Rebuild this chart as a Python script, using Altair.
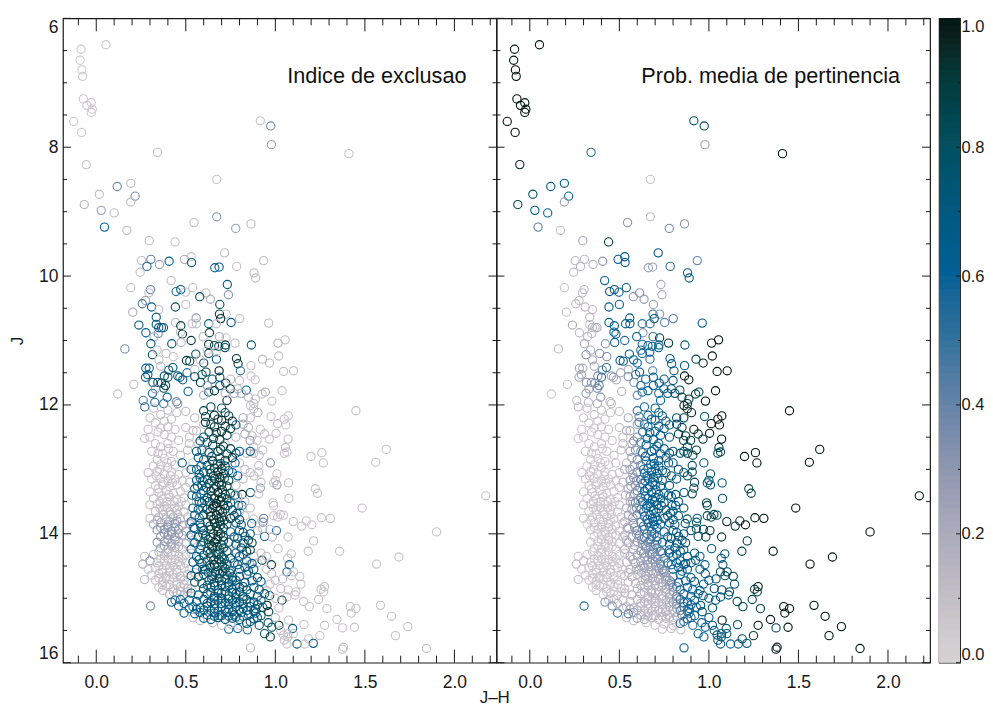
import altair as alt
import pandas as pd

# (J-H, J, exclusion index, membership probability)
bright_stars = [
(-.085,6.48,.05,1),(.054,6.41,.05,1),(-.09,6.65,.05,1),(-.08,6.80,.05,1),(-.076,6.90,.05,1),(-.072,7.25,.05,1),(-.052,7.35,.05,1),(-.028,7.31,.05,1),(-.022,7.41,.05,1),(-.028,7.46,.05,1),(-.126,7.60,.05,1),(-.082,7.77,.05,1),
(.916,7.59,.08,.75),(.974,7.67,.35,.8),(.978,7.96,.25,.25),(.342,8.08,.08,.5),(1.411,8.10,.08,1),(-.056,8.27,.08,.95),(.673,8.50,.08,.08),(.117,8.61,.38,.65),(.193,8.56,.12,.65),(.017,8.73,.1,.8),(.217,8.76,.35,.6),(.193,8.85,.1,.25),(-.067,8.89,.15,.85),(.028,8.98,.25,.65),(.10,9.02,.12,.6),(.046,9.24,.6,.4),(.171,9.29,.1,.1),(.673,9.08,.3,.12),(.546,9.17,.1,.3),(.779,9.26,.25,.35),(.864,9.19,.12,.3),(.296,9.45,.1,.2),(.44,9.47,.1,.9),(.53,9.70,.1,.65),(.717,9.64,.1,.65),(.253,9.76,.1,.12),(.305,9.74,.4,.12),(.407,9.77,.6,.3),(.493,9.74,.2,.6),(.532,9.79,.7,.65),(.935,9.76,.1,.4),(.283,9.85,.55,.15),(.353,9.82,.25,.15),(.662,9.87,.6,.25),(.686,9.86,.7,.25),(.784,9.85,.08,.5),(.245,9.94,.1,.1),(.881,9.95,.12,.65),(.89,10.03,.12,.65),(.418,10.07,.1,.6),
]
upper_branch = [
(.193,10.18,.1,.08),(.303,10.21,.4,.12),(.539,10.18,.1,.7),(.732,10.13,.7,.2),(.472,10.21,.75,.7),(.446,10.24,.55,.7),(.498,10.25,.1,.6),(.613,10.26,.12,.3),(.738,10.29,.3,.2),(.578,10.32,.8,.3),(.638,10.36,.2,.3),(.294,10.26,.1,.1),(.275,10.38,.25,.12),(.257,10.43,.45,.12),(.309,10.48,.7,.12),(.349,10.52,.1,.1),(.442,10.48,.8,.65),(.5,10.44,.1,.6),(.69,10.44,.8,.25),(.204,10.56,.2,.08),(.688,10.59,.85,.5),(.725,10.59,.1,.3),(.695,10.66,.95,.7),(.558,10.65,.3,.7),(.335,10.64,.7,.15),(.801,10.66,.1,.45),(.753,10.72,.7,.4),(.963,10.73,.1,.65),(.238,10.76,.7,.2),(.335,10.75,.7,.12),(.349,10.80,.7,.15),(.364,10.80,.7,.15),(.375,10.80,.7,.2),(.442,10.72,.1,.6),(.472,10.77,.9,.65),(.535,10.74,.1,.6),(.559,10.74,.1,.7),(.628,10.74,.6,.5),(.671,10.74,.1,.5),(.277,10.88,.6,.12),(.346,10.89,.4,.12),(.323,10.94,.2,.15),(.481,10.90,.9,.6),(.47,10.87,.1,.6),(.632,10.88,.9,.3),(.597,10.94,.15,.6),(.688,10.94,.2,.5),(.725,10.96,.1,.9),(.53,11.0,.9,.55),(1.015,11.04,.15,.95),(1.054,10.99,.1,1),(.305,11.05,.7,.2),(.422,11.05,.7,.3),(.474,11.03,.15,.6),(.775,11.04,.1,.9),(.628,11.06,.9,.55),(.66,11.08,.85,.6),(.684,11.09,.85,.6),(.721,11.07,.9,.6),(.866,11.07,.7,.75),(.16,11.13,.35,.1),
(.314,11.22,.85,.35),(.504,11.31,.9,.7),(.522,11.32,.85,.7),(.556,11.21,.8,.6),(.6,11.35,.8,.6),(.628,11.2,.85,.6),(.671,11.29,.7,.5),(.719,11.11,.8,.6),(.783,11.28,.9,.65),(.792,11.36,.9,.65),(.805,11.47,.5,.65),(.686,11.47,1,.4),(.277,11.43,.6,.2),(.296,11.43,.6,.2),(.288,11.53,.7,.25),(.275,11.57,.7,.2),(.316,11.65,.75,.3),(.344,11.65,.8,.3),(.364,11.66,.85,.35),(.405,11.46,.7,.4),(.428,11.42,.75,.5),(.4,11.57,.8,.5),(.387,11.70,.85,.4),(.377,11.74,.85,.4),(.455,11.55,.7,.25),(.467,11.57,.65,.25),(.507,11.5,.5,.2),(.483,11.61,.7,.2),(.55,11.56,.75,.3),(.591,11.53,.75,.5),(.613,11.49,.8,.6),(.582,11.65,.85,.35),(.647,11.6,.8,.6),(.69,11.57,.7,.6),(.723,11.66,.9,.7),(.749,11.75,.9,.65),(.66,11.78,.95,.6),(.628,11.8,.7,.6),(.513,11.79,.65,.15),(.838,11.77,.6,.8),(.396,11.88,.6,.3),(.314,11.82,.55,.25),(.262,11.93,.45,.12),(.271,12.03,.5,.12),(.327,11.96,.55,.12),(.377,11.98,.5,.2),(.448,11.95,.35,.12),(.455,11.98,.3,.12),(.73,11.93,.95,.6),
(.12,11.83,.1,.06),(.21,11.68,.1,.06),(.35,11.3,.1,.2),(.39,11.2,.1,.3),(.43,11.25,.1,.35),(.55,11.45,.1,.2),(.58,11.3,.1,.6),(.62,11.15,.1,.55),(.67,11.18,.1,.6),(.75,11.6,.12,.65),(.8,11.62,.1,.7),(.79,11.75,.15,.75),(.77,11.82,.2,.7),(.81,11.82,.2,.8),(.72,11.82,.2,.55),(.62,11.7,.3,.55),(.6,11.85,.2,.4),(.69,11.7,.7,.6),(.34,11.15,.12,.2),(.36,11.4,.15,.2),(.33,11.75,.3,.25),(.38,11.55,.8,.35),(.88,11.98,.12,.9),(.85,11.88,.15,.85),
]
red_wing = [
(1.45,12.09,.08,1),(1.26,12.74,.08,1),(1.199,12.8,.08,1),(1.268,12.9,.08,1),(1.619,12.69,.08,1),(1.561,12.89,.08,1),(2.175,13.41,.08,1),(1.485,13.6,.08,1),(1.9,13.97,.08,1),(1.359,14.27,.08,1),(1.69,14.36,.08,1),(1.565,14.47,.08,1),(1.418,15.13,.08,1),(1.45,15.16,.08,1),(1.424,15.23,.08,1),(1.587,15.11,.08,1),(1.649,15.28,.08,1),(1.344,15.33,.08,1),(1.74,15.44,.08,1),(1.671,15.58,.08,1),(1.375,15.79,.08,1),(1.381,15.76,.08,.95),(1.844,15.78,.08,1),
(1.102,11.47,.1,1),(1.046,11.48,.1,1),(.968,11.35,.1,.95),(1.019,11.24,.1,1),(.928,11.29,.12,.85),(.864,11.39,.08,.7),(.864,11.55,.08,1),(.888,11.61,.08,1),(1.037,11.78,.08,1),(.981,11.94,.08,1),(.944,11.8,.2,.85),(.926,11.83,.1,.85),(.888,11.91,.1,.9),(.861,12.01,.1,.95),(.879,12.06,.1,.95),(.903,12.12,.2,.95),(1.072,12.17,.08,1),(1.05,12.22,.08,1),(.976,12.18,.08,.75),(1.059,12.31,.08,1),(1.013,12.29,.08,1),(.916,12.38,.08,1),(1.004,12.44,.08,1),(1.071,12.53,.08,1),(.967,12.53,.08,.9),(.898,12.55,.08,.9),(.859,12.55,.3,.9),(1.056,12.66,.08,.9),(1.065,12.73,.08,.85),(1.05,12.75,.08,.85),(.972,12.9,.35,.7),(.907,12.94,.08,.8),(.907,13.04,.08,.85),(1.009,13.07,.08,.75),(1.0,13.17,.08,.75),(.991,13.21,.08,.75),(1.009,13.24,.25,.7),(1.074,13.21,.08,.7),(1.223,13.3,.08,.85),(1.236,13.37,.08,.85),(.916,13.29,.3,.85),(.861,13.36,.7,.7),(.814,13.39,.95,.7),(.907,13.38,.08,.85),(1.076,13.45,.08,.75),(.987,13.52,.08,.85),(.991,13.56,.08,.85),(.814,13.56,.7,.65),(.795,13.56,.75,.65),(.991,13.72,.08,.85),(1.028,13.7,.08,.85),(1.013,13.74,.08,.85),(1.045,13.71,.08,.85),(1.1,13.81,.08,.95),(1.173,13.8,.08,.95),(1.147,13.88,.08,.9),(1.204,13.86,.08,1),(1.257,13.75,.08,1),(1.307,13.76,.08,1),(.879,13.77,.08,.75),(.935,13.76,.4,.75),(.931,13.82,.35,.75),(.868,13.84,.6,.8),(1.006,13.95,.5,.9),(.94,14.04,.6,.8),(.983,14.05,.15,.8),(1.071,14.05,.08,.9),(1.214,14.11,.08,.9),(1.184,14.27,.08,.85),(1.015,14.23,.08,.7),(1.089,14.31,.08,.75),(1.069,14.38,.08,.7),(.926,14.41,.9,.7),(.978,14.48,.9,.7),(1.078,14.48,.6,.7),(1.065,14.59,.55,.8),(1.102,14.59,.08,.85),(1.136,14.66,.08,.85),(1.143,14.78,.08,.7),(1.275,14.82,.08,1),(1.255,14.86,.08,.9),(1.27,14.9,.08,.9),(1.242,15.02,.08,.85),(1.115,14.9,.08,.8),(1.072,14.87,.08,.8),(1.158,15.05,.08,.85),(1.19,15.13,.08,.85),(1.065,14.98,.08,.7),(1.037,15.03,.85,.75),(.968,14.96,.85,.75),(.954,15.11,1,.8),(.963,15.21,.9,.8),(1.288,15.16,.08,.9),(1.074,15.34,.08,1),(1.16,15.41,.08,.75),(1.275,15.42,.08,1),(1.375,15.46,.08,.85),(1.442,15.45,.08,1),(1.249,15.58,.08,.9),(1.186,15.63,.08,.8),(1.121,15.71,.7,.6),(1.212,15.7,.7,.7),(.861,15.77,.1,.6),(1.065,15.71,.08,.7),(1.164,15.71,.08,.7),(1.02,15.42,.9,.7),(1.097,15.47,.7,.7),(.94,15.55,.8,.6),(.972,15.6,.9,.6),(1.046,15.57,.08,.7),(.74,15.48,.6,.1),(.79,15.47,.6,.1),(.844,15.49,.5,.1),(.303,15.12,.35,.5),
(1.03,14.85,.1,.7),(1.0,14.72,.1,.65),(.98,14.62,.12,.7),(.92,14.3,.12,.7),(.95,14.35,.1,.7),(1.04,14.7,.1,.75),(1.09,14.65,.08,.8),(1.11,14.95,.08,.75),(1.0,15.0,.1,.65),(1.02,15.15,.1,.75),(1.0,15.3,.12,.65),(1.07,15.55,.1,.7),(1.05,15.65,.1,.7),(1.1,15.55,.1,.75),(1.03,15.5,.12,.65),(.98,15.45,.7,.6),(.96,15.38,.8,.6),(.91,15.42,.75,.55),(1.07,15.6,.08,.75),(.9,13.95,.12,.75),(.93,13.92,.15,.8),(.97,13.93,.12,.85),(.83,13.0,.12,.7),(.88,13.1,.1,.8),(.92,13.2,.1,.85),(.86,13.05,.12,.75),(.88,12.75,.12,.85),(.84,12.75,.15,.75),(.91,12.78,.1,.85),(.93,12.7,.1,.9),(.82,12.3,.2,.8),(.85,12.35,.15,.85),(.83,12.45,.2,.85),(.87,12.48,.12,.9),(.82,12.2,.2,.75),(.86,12.2,.12,.9),(.94,12.45,.1,.9),(.88,12.65,.12,.8),
]
main_sequence = [
(.60,12.09,.9,.5),(.64,12.03,.85,.55),(.70,12.05,.7,.6),(.72,12.12,.9,.65),(.66,12.16,.95,.6),(.61,12.18,.85,.45),(.74,12.17,.85,.65),(.68,12.22,.9,.65),(.70,12.24,.95,.65),(.76,12.25,.95,.7),(.61,12.27,.9,.4),(.64,12.3,.85,.5),(.78,12.31,.6,.7),(.66,12.34,.9,.6),(.72,12.33,.9,.65),(.75,12.37,.9,.65),(.7,12.41,.95,.65),(.63,12.42,.85,.55),(.67,12.43,.9,.65),(.6,12.5,.7,.35),(.73,12.47,.85,.65),(.69,12.54,.95,.65),(.58,12.56,.75,.3),(.62,12.58,.8,.45),(.65,12.62,.9,.6),(.71,12.64,.85,.65),(.75,12.68,.9,.65),(.56,12.72,.7,.25),(.59,12.7,.75,.3),(.63,12.74,.75,.5),(.68,12.72,.9,.6),(.73,12.76,.85,.65),(.78,12.75,.7,.7),(.8,12.72,.65,.75),(.86,12.72,.7,.8),(.57,12.82,.7,.25),(.6,12.85,.7,.35),(.65,12.87,1,.6),(.69,12.83,.85,.6),(.72,12.86,.9,.65),(.76,12.82,.95,.7),(.72,12.95,.85,.65),(.62,12.94,.75,.4),(.66,12.98,.9,.55),(.7,12.99,.95,.65),(.48,12.9,.7,.1),(.53,13.0,.7,.2),(.56,13.0,.7,.25),(.6,13.04,.75,.4),(.64,13.06,.8,.55),(.68,13.04,.95,.65),(.71,13.06,.85,.65),(.74,13.02,.75,.7),(.76,13.05,.6,.7),(.58,13.13,.75,.3),(.56,13.17,.7,.3),(.62,13.16,.8,.45),(.66,13.14,.9,.6),(.69,13.13,1,.65),(.74,13.17,.9,.7),(.59,13.25,.8,.3),(.63,13.22,.85,.5),(.67,13.27,.9,.6),(.7,13.24,.95,.65),(.73,13.26,.9,.7),(.55,13.3,.7,.2),(.6,13.33,.75,.4),(.64,13.34,.9,.6),(.68,13.36,1,.65),(.72,13.39,.95,.65),(.75,13.37,.9,.7),(.56,13.42,.7,.25),(.62,13.44,.8,.5),(.66,13.45,.95,.6),(.7,13.43,.9,.65),(.73,13.46,.85,.65),(.59,13.52,.75,.4),(.63,13.5,.9,.55),(.67,13.53,1,.6),(.71,13.55,.95,.65),(.75,13.52,.7,.7),(.54,13.6,.65,.2),(.57,13.62,.7,.3),(.62,13.62,.85,.5),(.65,13.6,.95,.6),(.69,13.64,1,.65),(.72,13.61,.9,.65),(.76,13.63,.7,.7),(.55,13.71,.7,.25),(.6,13.7,.8,.35),(.64,13.73,.95,.55),(.67,13.71,1,.6),(.7,13.74,.95,.65),(.75,13.76,.95,.7),(.77,13.72,.8,.7),(.8,13.78,.8,.7),(.53,13.81,.6,.15),(.58,13.84,.7,.3),(.62,13.82,.9,.45),(.66,13.83,.95,.6),(.69,13.81,.9,.6),(.73,13.85,.85,.65),(.78,13.83,.7,.7),(.81,13.86,.75,.7),(.55,13.92,.7,.25),(.6,13.95,.8,.4),(.64,13.93,.9,.5),(.68,13.96,.95,.55),(.71,13.91,.85,.6),(.75,13.97,.6,.65),(.82,13.98,.7,.7),(.86,14.0,.7,.7),(.53,14.02,.6,.15),(.57,14.05,.75,.25),(.61,14.03,.85,.4),(.64,14.06,.9,.45),(.68,14.04,.95,.5),(.71,14.05,.9,.55),(.79,14.07,.8,.7),(.83,14.04,.6,.75),(.55,14.14,.7,.2),(.6,14.12,.8,.3),(.63,14.16,.9,.35),(.66,14.13,.95,.4),(.7,14.17,.8,.5),(.74,14.13,.7,.6),(.78,14.16,.7,.65),(.85,14.1,.9,.75),(.87,14.14,.85,.75),(.81,14.22,.8,.7),(.53,14.24,.6,.15),(.58,14.25,.7,.2),(.62,14.27,.85,.3),(.65,14.22,.9,.3),(.69,14.25,.85,.35),(.73,14.27,.8,.5),(.84,14.27,.9,.7),(.86,14.25,.85,.7),(.56,14.35,.7,.2),(.6,14.33,.75,.25),(.64,14.36,.8,.3),(.67,14.32,.75,.3),(.7,14.35,.8,.35),(.75,14.38,.7,.5),(.8,14.35,.6,.6),(.84,14.42,.75,.65),(.54,14.44,.65,.15),(.59,14.46,.75,.2),(.62,14.42,.8,.25),(.66,14.48,1,.3),(.7,14.44,.85,.3),(.73,14.47,.75,.4),(.77,14.45,.7,.5),(.56,14.55,.7,.15),(.61,14.56,.75,.2),(.64,14.52,.8,.25),(.68,14.57,.8,.25),(.72,14.54,.8,.3),(.75,14.58,.7,.4),(.8,14.55,.7,.55),(.85,14.58,.7,.65),(.88,14.55,.65,.65),(.53,14.65,.6,.1),(.57,14.67,.85,.15),(.6,14.63,.7,.15),(.65,14.66,.8,.2),(.69,14.62,.9,.2),(.73,14.64,.8,.2),(.76,14.67,.75,.3),(.8,14.66,.7,.45),(.84,14.63,.7,.6),(.9,14.68,.8,.7),(.55,14.75,.8,.12),(.59,14.77,.7,.15),(.63,14.72,.75,.15),(.66,14.76,.85,.15),(.7,14.73,.75,.2),(.74,14.76,.72,.2),(.78,14.72,.7,.3),(.83,14.76,.75,.55),(.87,14.73,.7,.65),(.92,14.74,.7,.65),(.6,14.85,.85,.15),(.64,14.83,.72,.15),(.68,14.87,.7,.15),(.72,14.82,.8,.15),(.76,14.86,.72,.2),(.8,14.83,.75,.35),(.84,14.87,.72,.55),(.88,14.83,.7,.6),(.91,14.87,.7,.6),(.53,14.92,.7,.1),(.57,14.95,.7,.15),(.62,14.93,.7,.15),(.66,14.97,.72,.15),(.7,14.92,.72,.15),(.74,14.96,.75,.15),(.78,14.93,.8,.2),(.82,14.97,.75,.45),(.86,14.93,.72,.6),(.9,14.97,.7,.65),(.94,14.93,.72,.65),(.44,15.03,.55,.1),(.47,15.02,.55,.1),(.52,15.03,.6,.1),(.56,15.05,.65,.12),(.6,15.02,.7,.15),(.64,15.06,.72,.15),(.68,15.03,.7,.12),(.72,15.07,.7,.12),(.76,15.03,.72,.15),(.8,15.06,.72,.3),(.84,15.02,.78,.55),(.88,15.06,.72,.6),(.92,15.03,.7,.65),(.42,15.06,.6,.3),(.46,15.12,.55,.3),(.49,15.08,.6,.15),(.54,15.13,.65,.12),(.58,15.15,.7,.12),(.62,15.12,.72,.12),(.66,15.16,.7,.12),(.7,15.13,.65,.12),(.74,15.17,.7,.12),(.78,15.13,.72,.15),(.82,15.16,.7,.3),(.86,15.13,.7,.55),(.89,15.16,.7,.6),(.93,15.14,.72,.6),(.49,15.23,.7,.5),(.55,15.24,.65,.45),(.58,15.22,.7,.3),(.62,15.26,.7,.2),(.66,15.23,.75,.12),(.69,15.27,.65,.12),(.73,15.22,.7,.12),(.77,15.26,.7,.12),(.81,15.22,.7,.15),(.85,15.26,.65,.45),(.89,15.23,.7,.55),(.92,15.27,.8,.6),(.6,15.31,.65,.25),(.64,15.33,.7,.2),(.68,15.3,.7,.12),(.72,15.33,.72,.12),(.76,15.31,.7,.12),(.8,15.33,.65,.12),(.86,15.36,.7,.55),(.84,15.39,.7,.5),(.88,15.32,.7,.55),
]
main_fill = [
(.655,12.52,.8,.6),(.695,12.69,.85,.62),(.645,12.8,.75,.58),(.675,12.92,.85,.6),(.635,13.0,.8,.5),(.695,12.91,.8,.65),(.655,13.1,.85,.6),(.715,13.14,.78,.68),(.645,13.18,.8,.55),(.685,13.2,.9,.66),(.615,13.28,.75,.42),(.655,13.3,.85,.6),(.705,13.32,.85,.66),(.685,13.47,.9,.64),(.645,13.41,.8,.58),(.605,13.48,.7,.38),(.655,13.56,.85,.58),(.695,13.5,.9,.66),(.735,13.56,.8,.68),(.635,13.66,.85,.5),(.675,13.58,.9,.6),(.705,13.67,.9,.66),(.655,13.78,.9,.56),(.685,13.76,.9,.62),(.715,13.79,.82,.62),(.635,13.88,.85,.48),(.67,13.89,.9,.55),(.695,13.86,.85,.6),(.655,14.0,.9,.5),(.695,14.0,.88,.52),(.625,14.09,.85,.38),(.675,14.09,.9,.45),(.71,14.11,.82,.52),(.645,14.19,.9,.35),(.675,14.2,.88,.38),(.71,14.22,.8,.42),(.635,14.3,.82,.3),(.685,14.3,.85,.35),(.655,14.41,.85,.3),(.685,14.4,.9,.32),(.715,14.4,.8,.35),(.635,14.49,.8,.22),(.675,14.51,.85,.25),(.705,14.5,.85,.28),(.625,14.6,.75,.2),(.665,14.6,.82,.2),(.705,14.59,.8,.22),(.745,14.61,.75,.3),(.645,14.7,.75,.18),(.685,14.69,.85,.2),(.72,14.7,.75,.2),(.76,14.72,.72,.28),(.62,14.8,.72,.15),(.66,14.81,.75,.15),(.7,14.79,.78,.17),(.74,14.81,.72,.18),(.78,14.8,.7,.25),(.82,14.82,.72,.45),(.64,14.91,.7,.15),(.68,14.92,.72,.15),(.72,14.9,.75,.15),(.76,14.91,.72,.18),(.8,14.9,.75,.3),(.66,15.0,.7,.12),(.7,15.0,.7,.13),(.74,15.01,.72,.13),(.78,14.99,.75,.18),(.82,15.01,.7,.35),(.62,15.08,.7,.12),(.66,15.09,.7,.12),(.7,15.08,.68,.12),(.74,15.1,.68,.12),(.78,15.07,.7,.15),(.82,15.09,.7,.3),(.86,15.07,.68,.55),(.64,15.19,.68,.12),(.68,15.2,.66,.12),(.72,15.19,.65,.12),(.76,15.21,.68,.12),(.8,15.19,.7,.15),(.84,15.19,.68,.45),(.6,15.18,.68,.15),(.56,15.17,.65,.2),(.52,15.16,.6,.25),(.66,15.28,.65,.12),(.7,15.27,.65,.12),(.74,15.28,.65,.12),(.78,15.29,.68,.12),(.82,15.28,.65,.2),(.88,15.2,.7,.55),(.9,15.1,.68,.58),(.9,15.3,.68,.55),
(.585,12.95,.68,.28),(.575,13.08,.68,.25),(.595,13.18,.7,.32),(.565,13.26,.66,.25),(.585,13.38,.68,.3),(.575,13.5,.68,.27),(.595,13.6,.7,.35),(.575,13.75,.68,.28),(.585,13.9,.7,.3),(.595,14.0,.72,.3),(.585,14.18,.72,.22),(.575,14.4,.7,.18),(.595,14.55,.72,.18),(.545,13.9,.62,.18),(.535,13.4,.58,.15),(.775,12.9,.6,.7),(.79,13.1,.6,.72),(.775,13.4,.6,.68),(.785,13.68,.68,.7),(.8,13.95,.68,.7),(.77,14.05,.68,.68),(.82,14.14,.7,.72),(.78,14.3,.68,.62),(.82,14.32,.65,.68),(.79,14.48,.68,.55),(.83,14.52,.68,.62),(.87,14.46,.65,.68),
]
gray_clump = [
(.32,12.05,.12,.08),(.4,12.08,.12,.1),(.45,12.12,.1,.08),(.5,12.1,.12,.1),(.36,12.15,.1,.08),(.3,12.2,.1,.08),(.33,12.28,.08,.06),(.38,12.25,.08,.07),(.42,12.22,.1,.08),(.55,12.2,.12,.2),(.29,12.38,.08,.06),(.36,12.36,.08,.06),(.4,12.34,.1,.07),(.44,12.38,.08,.08),(.5,12.35,.08,.1),(.54,12.4,.12,.15),(.27,12.52,.08,.05),(.3,12.5,.08,.05),(.38,12.46,.08,.06),(.42,12.5,.08,.06),(.46,12.55,.08,.08),(.52,12.5,.1,.1),(.33,12.6,.08,.05),(.36,12.65,.08,.05),(.4,12.6,.08,.06),(.31,12.72,.08,.05),(.37,12.76,.08,.05),(.43,12.72,.08,.07),(.47,12.78,.08,.08),(.51,12.7,.1,.1),(.34,12.85,.07,.05),(.38,12.83,.07,.05),(.42,12.88,.07,.05),(.32,12.95,.07,.05),(.36,12.93,.07,.05),(.4,12.97,.07,.05),(.44,12.93,.07,.06),(.29,13.05,.1,.05),(.34,13.03,.07,.05),(.38,13.07,.07,.05),(.42,13.04,.07,.05),(.46,13.08,.07,.06),(.5,13.05,.08,.08),(.31,13.15,.07,.05),(.36,13.14,.07,.05),(.4,13.18,.07,.05),(.44,13.15,.07,.05),(.48,13.18,.08,.07),(.33,13.25,.07,.05),(.37,13.24,.07,.05),(.41,13.27,.07,.05),(.45,13.24,.07,.05),(.5,13.28,.08,.07),(.3,13.35,.07,.05),(.35,13.36,.07,.05),(.39,13.33,.07,.05),(.43,13.37,.07,.05),(.47,13.34,.07,.05),(.32,13.45,.08,.05),(.37,13.46,.07,.05),(.41,13.43,.07,.05),(.45,13.47,.07,.05),(.49,13.44,.08,.06),(.3,13.55,.08,.05),(.34,13.54,.08,.05),(.38,13.57,.07,.05),(.42,13.54,.07,.05),(.46,13.57,.07,.05),(.5,13.55,.08,.06),(.33,13.65,.1,.05),(.37,13.63,.1,.05),(.41,13.66,.1,.05),(.45,13.63,.1,.05),(.49,13.66,.1,.06),(.3,13.76,.1,.05),(.35,13.74,.15,.05),(.39,13.77,.18,.05),(.43,13.74,.2,.05),(.47,13.77,.15,.05),(.51,13.74,.12,.07),(.32,13.85,.2,.05),(.36,13.83,.25,.05),(.4,13.86,.28,.05),(.44,13.84,.3,.05),(.48,13.87,.25,.05),(.52,13.84,.2,.08),(.34,13.94,.28,.05),(.38,13.93,.3,.05),(.42,13.96,.32,.05),(.46,13.93,.28,.05),(.5,13.96,.2,.05),(.36,14.04,.3,.05),(.4,14.02,.3,.05),(.44,14.05,.28,.05),(.48,14.02,.25,.05),(.52,14.05,.15,.07),(.34,14.13,.3,.05),(.38,14.12,.28,.05),(.42,14.15,.25,.05),(.46,14.12,.2,.05),(.5,14.15,.15,.05),(.36,14.22,.25,.05),(.4,14.24,.2,.05),(.44,14.21,.18,.05),(.48,14.24,.12,.05),(.27,14.35,.12,.08),(.32,14.32,.12,.05),(.38,14.34,.12,.05),(.42,14.32,.1,.05),(.46,14.35,.1,.05),(.5,14.32,.1,.05),(.3,14.42,.35,.1),(.26,14.47,.2,.12),(.34,14.45,.08,.05),(.38,14.42,.08,.05),(.42,14.45,.08,.05),(.46,14.43,.08,.05),(.5,14.46,.08,.05),(.29,14.55,.08,.06),(.33,14.53,.08,.05),(.37,14.56,.08,.05),(.41,14.53,.08,.05),(.45,14.56,.08,.05),(.49,14.53,.08,.05),(.52,14.56,.1,.06),(.31,14.64,.08,.05),(.35,14.62,.08,.05),(.39,14.66,.08,.05),(.43,14.63,.08,.05),(.47,14.66,.08,.05),(.51,14.63,.1,.06),(.27,14.71,.15,.1),(.33,14.72,.08,.05),(.37,14.74,.08,.05),(.41,14.71,.08,.05),(.45,14.75,.08,.05),(.49,14.72,.1,.05),(.35,14.83,.08,.05),(.39,14.81,.08,.05),(.43,14.85,.08,.05),(.47,14.82,.1,.05),(.51,14.85,.1,.05),(.41,14.94,.15,.05),(.45,14.92,.15,.05),(.49,14.95,.15,.05),(.37,14.88,.1,.05),(.7,15.42,.1,.08),(.75,15.4,.1,.08),(.8,15.42,.1,.08),(.65,15.38,.1,.08),(.58,15.35,.1,.1),(.54,15.3,.1,.1),
(.57,12.6,.1,.2),(.6,12.3,.1,.25),(.62,12.72,.1,.35),(.72,12.6,.1,.6),(.78,12.5,.12,.7),(.8,12.9,.12,.7),(.82,13.15,.12,.7),(.78,13.25,.12,.7),(.79,13.42,.15,.7),(.83,13.5,.12,.7),(.8,13.65,.1,.7),(.86,13.6,.1,.75),(.83,13.72,.1,.7),(.78,14.25,.1,.6),(.74,14.3,.1,.45),(.82,14.45,.1,.6),(.88,14.35,.1,.65),(.9,14.45,.1,.65),(.86,14.48,.1,.65),(.79,14.75,.1,.35),(.95,14.55,.1,.65),(.97,14.78,.1,.65),(.95,14.88,.1,.65),(.74,14.55,.1,.35),(.62,14.5,.1,.2),(.66,14.7,.1,.15),(.72,14.7,.1,.2),(.7,15.05,.15,.12),(.76,15.18,.15,.12),(.68,14.9,.15,.15),(.54,14.1,.1,.15),(.53,14.3,.1,.12),(.55,14.6,.1,.1),(.53,14.85,.1,.08),(.56,13.5,.1,.2),(.52,13.2,.1,.12),(.54,12.9,.1,.15),(.52,12.6,.1,.12),(.56,12.4,.1,.2),
]
gray_fill = [
(.345,12.42,.08,.05),(.405,12.68,.08,.05),(.345,12.75,.08,.05),(.395,12.9,.07,.05),(.355,13.0,.07,.05),(.415,13.1,.07,.05),(.335,13.1,.07,.05),(.375,13.2,.07,.05),(.425,13.21,.07,.05),(.345,13.3,.07,.05),(.405,13.39,.07,.05),(.365,13.41,.07,.05),(.355,13.5,.08,.05),(.395,13.5,.07,.05),(.435,13.5,.07,.05),(.475,13.5,.07,.05),(.355,13.6,.08,.05),(.395,13.6,.08,.05),(.435,13.6,.08,.05),(.375,13.7,.12,.05),(.415,13.7,.14,.05),(.455,13.7,.12,.05),(.34,13.79,.18,.05),(.41,13.81,.25,.05),(.45,13.8,.26,.05),(.36,13.9,.28,.05),(.4,13.9,.3,.05),(.44,13.9,.3,.05),(.38,13.99,.3,.05),(.42,14.0,.3,.05),(.46,14.0,.26,.05),(.4,14.09,.28,.05),(.44,14.1,.25,.05),(.38,14.19,.25,.05),(.42,14.19,.22,.05),(.46,14.2,.16,.05),(.35,14.28,.15,.05),(.4,14.29,.14,.05),(.44,14.28,.12,.05),(.36,14.39,.09,.05),(.4,14.39,.09,.05),(.44,14.4,.09,.05),(.48,14.39,.09,.05),(.35,14.5,.08,.05),(.39,14.49,.08,.05),(.43,14.5,.08,.05),(.47,14.49,.08,.05),(.37,14.6,.08,.05),(.41,14.59,.08,.05),(.45,14.6,.08,.05),(.35,14.69,.08,.05),(.39,14.69,.08,.05),(.43,14.68,.08,.05),(.47,14.7,.08,.05),(.37,14.79,.08,.05),(.41,14.79,.08,.05),(.45,14.79,.08,.05),(.49,14.79,.1,.05),(.43,14.9,.12,.05),(.47,14.89,.12,.05),(.51,14.9,.12,.05),
]
all_stars = bright_stars + upper_branch + red_wing + gray_clump + gray_fill + main_sequence + main_fill

jh_major = [0, .5, 1, 1.5, 2]
jh_minor = [-.1, .1, .2, .3, .4, .6, .7, .8, .9, 1.1, 1.2, 1.3, 1.4, 1.6, 1.7, 1.8, 1.9, 2.1, 2.2]
j_major = [6, 8, 10, 12, 14, 16]
j_minor = [6.5, 7, 7.5, 8.5, 9, 9.5, 10.5, 11, 11.5, 12.5, 13, 13.5, 14.5, 15, 15.5]
bar_major = [0, .2, .4, .6, .8, 1]
bar_minor = [.1, .3, .5, .7, .9]
bar_levels = [i / 100 for i in range(100)]

color_domain = [0, .1, .2, .3, .4, .5, .6, .7, .8, .9, 1]
color_range = ["#d6d2d4", "#c2bec6", "#aaaabc", "#8d96b0", "#6283a8", "#30719c", "#026096", "#02587f", "#044f60", "#033b3c", "#01140f"]

PW, PH = 434, 645
FONT = "Liberation Sans"
INK = "#1a1a1a"
LABEL = 17.5
xs = alt.Scale(domain=[-.186, 2.235], nice=False, zero=False)
ys = alt.Scale(domain=[16, 6], nice=False, zero=False)
cs = alt.Scale(domain=color_domain, range=color_range, clamp=True)
df = pd.DataFrame(all_stars, columns=["jh", "j", "excl", "prob"])


def tick_x(vals, axis, start, end):
    return alt.Chart(pd.DataFrame({"v": vals})).mark_rule(color=INK, strokeWidth=1).encode(
        x=alt.X("v:Q", scale=xs, axis=axis), y=alt.value(start), y2=alt.value(end))


def tick_y(vals, axis, start, end, scale=ys):
    return alt.Chart(pd.DataFrame({"v": vals})).mark_rule(color=INK, strokeWidth=1).encode(
        y=alt.Y("v:Q", scale=scale, axis=axis), x=alt.value(start), x2=alt.value(end))


def panel(field, label, left):
    xaxis = alt.Axis(values=jh_major, format=".1f", domain=False, ticks=False, grid=False, labelFontSize=LABEL,
                     labelFont=FONT, labelColor=INK, labelPadding=11, title=None)
    if left:
        yaxis = alt.Axis(values=j_major, format="d", domain=False, ticks=False, grid=False, labelFontSize=LABEL, labelFont=FONT,
                         labelColor=INK, labelPadding=5, labelFlush=True, title="J", titleFont=FONT, titleFontSize=17,
                         titleFontWeight="normal", titleColor=INK, titlePadding=6, minExtent=30, maxExtent=30)
    else:
        yaxis = None
    pts = alt.Chart(df).mark_point(shape="circle", filled=False, size=68, strokeWidth=1.1, opacity=1).encode(
        x=alt.X("jh:Q", scale=xs, axis=xaxis),
        y=alt.Y("j:Q", scale=ys, axis=yaxis),
        color=alt.Color(f"{field}:Q", scale=cs, legend=None),
    )
    txt = alt.Chart(pd.DataFrame({"t": [label]})).mark_text(
        font=FONT, fontSize=21.7, align="right", baseline="middle", color="#111").encode(
        x=alt.value(404), y=alt.value(58), text="t:N")
    return alt.layer(
        pts, txt,
        tick_x(jh_major, xaxis, PH, PH - 13), tick_x(jh_minor, xaxis, PH, PH - 7),
        tick_x(jh_major, xaxis, 0, 13), tick_x(jh_minor, xaxis, 0, 7),
        tick_y(j_major, yaxis, 0, 8), tick_y(j_minor, yaxis, 0, 4),
        tick_y(j_major, yaxis, PW, PW - 8), tick_y(j_minor, yaxis, PW, PW - 4),
    ).properties(width=PW, height=PH)


bar_scale = alt.Scale(domain=[0, 1], nice=False, zero=False)
bar_axis = alt.Axis(values=bar_major, format=".1f", orient="right", domain=False, ticks=False, grid=False, labelFontSize=16.5,
                    labelFont=FONT, labelColor=INK, labelPadding=1, labelFlush=True, title=None)
bar_df = pd.DataFrame({"lo": bar_levels, "hi": [min(1, b + .02) for b in bar_levels]})
bar_rect = alt.Chart(bar_df).mark_rect().encode(
    y=alt.Y("lo:Q", scale=bar_scale, axis=bar_axis),
    y2="hi:Q",
    color=alt.Color("lo:Q", scale=cs, legend=None),
)
bar = alt.layer(bar_rect, tick_y(bar_major, bar_axis, 17, 21, bar_scale), tick_y(bar_minor, bar_axis, 19, 21, bar_scale)).properties(width=21, height=PH)

panels = alt.hconcat(panel("excl", "Indice de exclusao", True), panel("prob", "Prob. media de pertinencia", False), spacing=0, bounds="flush").properties(
    title=alt.TitleParams("J–H", orient="bottom", anchor="middle", font=FONT, fontSize=17, fontWeight="normal", color=INK, dx=25, dy=-6, offset=4))

chart = alt.hconcat(panels, bar, spacing=6).configure_view(stroke=INK, strokeWidth=1.2).properties(
    padding={"left": 0, "top": 8, "right": 0, "bottom": 0}, background="white")

chart.save("out.html", embed_options={"renderer": "svg", "actions": False})
